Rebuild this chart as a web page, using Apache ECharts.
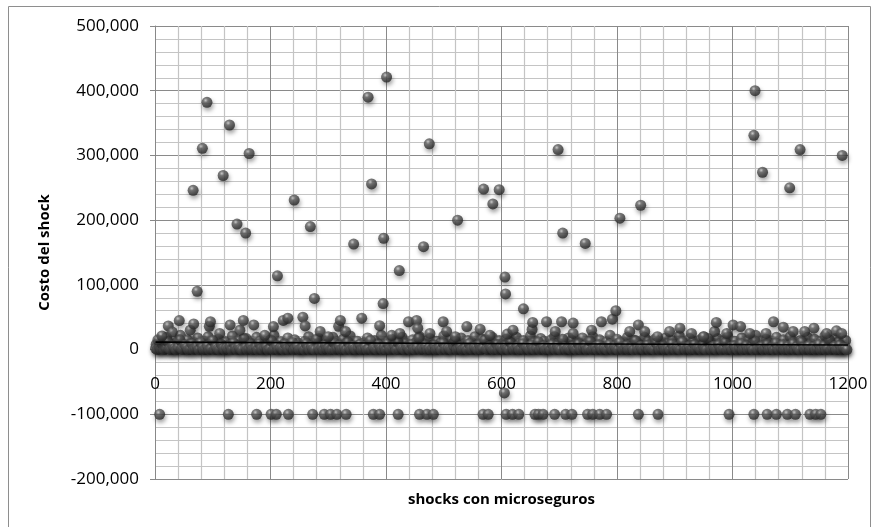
<!DOCTYPE html>
<html>
<head>
<meta charset="utf-8">
<script src="https://cdn.jsdelivr.net/npm/echarts@6/dist/echarts.min.js"></script>
<style>
  html, body { margin: 0; padding: 0; background: #fff; }
  #chart { width: 878px; height: 527px; }
</style>
</head>
<body>
<div id="chart"></div>
<script>
// ---------- DATA ----------
const xTitle = 'shocks con microseguros';
const yTitle = 'Costo del shock';
const xMin = 0, xMax = 1200, xStep = 200;
const yMin = -200000, yMax = 500000, yStep = 100000;

// Dense band of small costs (thousands), one value per sampled shock (shock id = 1 + 3*i)
const bandValuesK = [
  2,0,5,1,8,0,3,12,1,0,6,2,0,4,15,1,0,7,3,0,
  1,9,0,2,5,0,11,3,0,1,6,0,2,14,0,4,1,0,8,2,
  0,3,1,6,0,10,2,0,5,1,0,17,3,0,2,7,0,1,4,0,
  9,1,0,3,5,0,2,13,0,1,6,0,3,2,0,8,1,0,4,11,
  0,2,6,0,1,3,0,9,2,0,5,1,0,16,2,0,4,0,7,1,
  3,0,1,10,0,2,6,0,1,4,0,12,2,0,5,1,0,3,8,0,
  1,5,0,2,14,0,3,1,0,7,2,0,4,0,9,1,0,2,6,0,
  11,0,3,1,0,5,2,0,8,1,0,4,18,0,2,1,6,0,3,0,
  2,7,0,1,4,0,10,2,0,3,1,0,6,13,0,2,5,0,1,3,
  0,9,1,0,4,2,0,7,0,3,15,1,0,5,2,0,1,8,0,4,
  2,0,6,1,0,11,3,0,2,5,0,1,9,0,4,2,0,7,1,0,
  3,12,0,2,5,0,1,4,0,8,2,0,6,1,0,16,3,0,2,1,
  0,5,2,0,9,1,0,3,6,0,2,13,0,1,4,0,7,2,0,3,
  1,0,8,2,0,5,1,0,11,3,0,2,6,0,1,4,0,14,2,0,
  5,1,0,3,7,0,2,1,0,10,4,0,2,6,0,1,3,0,9,2,
  0,4,1,0,12,3,0,2,5,0,1,8,0,3,2,0,6,1,0,17,
  2,0,5,1,0,7,3,0,2,11,0,1,4,0,6,2,0,3,9,0,
  1,6,0,2,4,0,13,1,0,3,5,0,2,8,0,1,4,0,10,2,
  0,3,7,0,1,5,0,2,9,0,4,1,0,12,3,0,2,6,0,1,
  4,0,2,8,0,1,6,0,3,15,0,2,5,0,1,7,0,3,2,0
];

// Upper part of the band (thousands), shock id = 2 + 6*i
const upperBandValuesK = [
  8,14,6,19,10,5,12,22,7,15,9,11,18,6,13,20,8,10,16,5,
  12,7,21,9,14,6,17,11,8,19,13,5,10,15,22,7,12,9,18,6,
  15,10,6,13,20,8,11,17,5,14,9,19,12,7,16,10,21,6,13,8,
  11,18,7,14,9,22,6,12,16,8,13,19,10,5,15,11,20,7,9,17,
  6,13,10,21,8,15,12,5,18,9,14,11,20,7,16,6,12,19,10,14,
  9,16,12,7,19,10,14,6,21,11,8,17,13,5,15,20,9,12,7,18,
  14,8,11,18,6,13,20,9,15,7,12,22,10,16,6,11,19,8,14,10,
  7,19,13,9,16,5,12,18,10,14,8,21,11,6,17,13,9,15,20,7,
  12,6,17,10,14,20,8,13,5,18,11,15,9,22,7,12,16,10,6,19,
  10,15,8,20,12,6,14,11,19,9,16,7,13,21,8,10,17,12,5,14
];

// Moderate costs just above the band [shock, cost]
const midPoints = [
  [5,15000],[12,21000],[23,36600],[30,27000],[42,44800],[61,30000],[67,39700],[94,36000],
  [96,43000],[112,25000],[130,38000],[147,30000],[153,45000],[171,38000],[190,22000],[205,35500],
  [222,45000],[230,48500],[256,50000],[260,36600],[286,28000],[300,20000],[318,36000],[321,45000],
  [330,28000],[358,48500],[389,37000],[410,22000],[424,25000],[439,43000],[453,45000],[455,33000],
  [476,25000],[499,43000],[505,28000],[520,20000],[540,35500],[563,31500],[580,22000],[610,24000],
  [620,30000],[653,31000],[654,42000],[678,43000],[693,28000],[704,43000],[724,41000],[724,25000],
  [756,30000],[773,43000],[792,47000],[798,60000],[822,28000],[837,38000],[848,28000],[870,20000],
  [891,28000],[909,33000],[929,25000],[950,20000],[969,28000],[972,42000],[990,25000],[1001,38000],
  [1014,35500],[1030,25000],[1058,25000],[1071,43000],[1088,34600],[1105,28000],[1125,28000],
  [1141,33000],[1163,25000],[1180,29000],[1189,25000]
];

// Large costs [shock, cost]
const bigPoints = [
  [66,246000],[73,90000],[82,311000],[90,382000],[118,269000],[129,347000],[142,194000],
  [157,180000],[163,303000],[212,114000],[241,231000],[269,190000],[276,79000],[344,163000],
  [369,390000],[375,256000],[395,71000],[396,172000],[401,421000],[423,122000],[465,159000],
  [475,318000],[524,200000],[569,248000],[585,225000],[596,247000],[605,-67000],[606,112000],
  [607,86000],[638,63000],[698,309000],[706,180000],[745,164000],[805,203000],[841,223000],
  [1037,331000],[1039,400000],[1052,274000],[1099,250000],[1117,309000],[1190,300000]
];

// Shocks with cost -100,000 [shock, cost]
const negativePoints = [
  [8,-100000],[127,-100000],[176,-100000],[201,-100000],[210,-100000],[231,-100000],
  [273,-100000],[293,-100000],[304,-100000],[315,-100000],[331,-100000],[378,-100000],
  [389,-100000],[421,-100000],[458,-100000],[471,-100000],[482,-100000],[568,-100000],
  [577,-100000],[608,-100000],[619,-100000],[630,-100000],[658,-100000],[664,-100000],
  [672,-100000],[692,-100000],[711,-100000],[722,-100000],[749,-100000],[758,-100000],
  [770,-100000],[782,-100000],[837,-100000],[871,-100000],[994,-100000],[1037,-100000],
  [1060,-100000],[1076,-100000],[1095,-100000],[1109,-100000],[1134,-100000],[1144,-100000],
  [1153,-100000]
];

// Linear trend line end points [shock, cost]
const trendPoints = [[1,11500],[1200,7000]];

// ---------- BUILD ----------
const upperPoints = upperBandValuesK.map((v, i) => [2 + 6 * i, v * 1000]);
const bandPoints = bandValuesK.map((v, i) => [1 + 3 * i, v * 1000]);
const allPoints = upperPoints.concat(bandPoints, midPoints, bigPoints, negativePoints);

const sphere = {
  type: 'radial', x: 0.38, y: 0.32, r: 0.68,
  colorStops: [
    { offset: 0, color: '#c4c4c4' },
    { offset: 0.3, color: '#5e5e5e' },
    { offset: 0.75, color: '#383838' },
    { offset: 1, color: '#262626' }
  ]
};

const gridTop = 26, gridBottom = 48, chartH = 527;
const plotH = chartH - gridTop - gridBottom;
// place the x axis where cost = 0 (Excel style), via the axis offset
const zeroOffset = -plotH * (0 - yMin) / (yMax - yMin);

const fmt = v => v.toLocaleString('en-US');
const chart = echarts.init(document.getElementById('chart'), null, { renderer: 'canvas' });
chart.setOption({
  animation: false,
  backgroundColor: '#ffffff',
  grid: { left: 155, right: 30, top: gridTop, bottom: gridBottom, containLabel: false, outerBoundsMode: 'none' },
  graphic: [{
    type: 'rect', silent: true, z: -10,
    shape: { x: 8.5, y: 6.5, width: 862, height: 540 },
    style: { fill: 'none', stroke: '#8e8e8e', lineWidth: 1 }
  }],
  xAxis: {
    type: 'value', min: xMin, max: xMax, interval: xStep,
    position: 'bottom', offset: zeroOffset,
    name: xTitle, nameLocation: 'middle', nameGap: 143,
    nameTextStyle: { fontFamily: 'Open Sans', fontWeight: 'bold', fontSize: 15, color: '#000' },
    axisLine: { show: true, onZero: false, lineStyle: { color: '#888', width: 1 } },
    axisTick: { show: false },
    axisLabel: { margin: 26, fontFamily: 'Open Sans', fontSize: 17, color: '#000', formatter: v => String(v) },
    splitLine: { show: true, lineStyle: { color: '#8a8a8a', width: 1 } },
    minorTick: { show: false, splitNumber: 5 },
    minorSplitLine: { show: true, lineStyle: { color: '#c4c4c4', width: 1.2 } }
  },
  yAxis: {
    type: 'value', min: yMin, max: yMax, interval: yStep,
    name: yTitle, nameLocation: 'middle', nameGap: 103, nameRotate: 90,
    nameTextStyle: { fontFamily: 'Open Sans', fontWeight: 'bold', fontSize: 15, color: '#000' },
    axisLine: { show: true, onZero: false, lineStyle: { color: '#888', width: 1 } },
    axisTick: { show: true, length: 5, lineStyle: { color: '#888' } },
    axisLabel: { margin: 16, fontFamily: 'Open Sans', fontSize: 17, color: '#000', formatter: fmt },
    splitLine: { show: true, lineStyle: { color: '#8a8a8a', width: 1 } },
    minorTick: { show: false, splitNumber: 5 },
    minorSplitLine: { show: true, lineStyle: { color: '#c4c4c4', width: 1.2 } }
  },
  series: [
    {
      type: 'scatter', data: allPoints, symbol: 'circle', symbolSize: 11,
      large: false, progressive: 0,
      itemStyle: {
        color: sphere,
        shadowBlur: 4, shadowColor: 'rgba(0,0,0,0.45)', shadowOffsetX: 1, shadowOffsetY: 3
      },
      z: 3
    },
    {
      type: 'line', data: trendPoints, symbol: 'none',
      lineStyle: { color: '#000', width: 1.6 }, z: 5
    }
  ]
});
</script>
</body>
</html>
